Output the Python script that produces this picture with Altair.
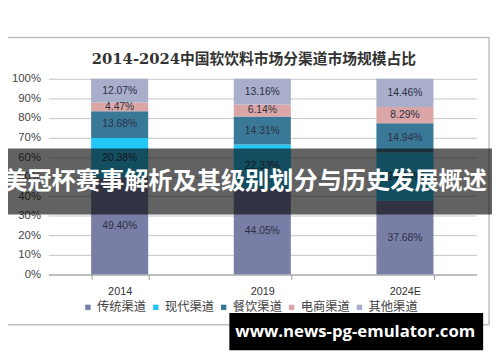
import altair as alt
import pandas as pd

years = ["2014", "2019", "2024E"]
channels = ["传统渠道", "现代渠道", "餐饮渠道", "电商渠道", "其他渠道"]
colors = ["#797ea6", "#22c8f8", "#3a7898", "#dba7a6", "#a9aecb"]
traditional = [49.40, 44.05, 37.68]
modern = [20.38, 22.33, 24.63]
catering = [13.68, 14.31, 14.94]
ecommerce = [4.47, 6.14, 8.29]
other = [12.07, 13.16, 14.46]
y_ticks = [0, 10, 20, 30, 40, 50, 60, 70, 80, 90, 100]

series = [traditional, modern, catering, ecommerce, other]
rows = []
for ci, (ch, vals) in enumerate(zip(channels, series)):
    for yi, y in enumerate(years):
        rows.append({"year": y, "channel": ch, "idx": ci, "value": vals[yi],
                     "label": f"{vals[yi]:.2f}%"})
df = pd.DataFrame(rows)

title_text = "2014-2024中国软饮料市场分渠道市场规模占比"
banner_text = "美冠杯赛事解析及其级别划分与历史发展概述"
watermark_text = "www.news-pg-emulator.com"

W, H = 435, 199
FONT = "Liberation Sans"

base = alt.Chart(df).transform_stack(
    stack="value", groupby=["year"], as_=["v0", "v1"],
    sort=[alt.SortField("idx", order="ascending")]
).transform_calculate(mid="(datum.v0 + datum.v1) / 2")

xaxis = alt.Axis(labelAngle=0, labelFontSize=11, labelColor="#333",
                 labelFont=FONT, domainColor="#999", tickColor="#999",
                 tickSize=5, tickBand="extent", labelPadding=6, grid=False,
                 zindex=1)
yaxis = alt.Axis(values=y_ticks, labelExpr="datum.value + '%'",
                 labelFontSize=11.5, labelColor="#444", labelFont=FONT,
                 labelOverlap=False, labelFlush=False,
                 domain=False, ticks=False, grid=True, gridColor="#c4c4c4",
                 gridWidth=1, labelPadding=8)
xscale = alt.Scale(paddingInner=0.6, paddingOuter=0.3)
yscale = alt.Scale(domain=[0, 100])

bars = base.mark_bar().encode(
    x=alt.X("year:N", sort=years, title=None, scale=xscale, axis=xaxis),
    y=alt.Y("v0:Q", scale=yscale, title=None, axis=yaxis),
    y2="v1:Q",
    color=alt.Color("channel:N", sort=channels,
                    scale=alt.Scale(domain=channels, range=colors),
                    legend=alt.Legend(title=None, orient="none", direction="horizontal",
                                      legendX=34, legendY=226, symbolType="square",
                                      symbolSize=30, labelFontSize=12.5, labelColor="#444",
                                      labelFont="Noto Sans CJK SC", columnPadding=3,
                                      labelOffset=3, symbolStrokeWidth=0)),
    order=alt.Order("idx:Q", sort="ascending"),
)

labels = base.mark_text(fontSize=10.5, color="#2d2f44", font=FONT).encode(
    x=alt.X("year:N", sort=years, title=None, scale=xscale, axis=xaxis),
    y=alt.Y("mid:Q", scale=yscale, title=None, axis=yaxis),
    text="label:N",
)

frame = alt.Chart(pd.DataFrame({"k": [0]})).mark_rect(
    filled=False, stroke="#c0c0c0", strokeWidth=1.5).encode(
    x=alt.value(-46), x2=alt.value(448), y=alt.value(-42), y2=alt.value(250))

title = alt.Chart(pd.DataFrame({"t": [title_text]})).mark_text(
    fontSize=15, fontWeight="bold", color="#333",
    font="DejaVu Serif, Noto Sans CJK SC").encode(
    x=alt.value(209), y=alt.value(-20), text="t:N")

banner_rect = alt.Chart(pd.DataFrame({"k": [0]})).mark_rect(
    fill="#0a0a0a", opacity=0.64).encode(
    x=alt.value(-49), x2=alt.value(451), y=alt.value(71), y2=alt.value(138))

banner = alt.Chart(pd.DataFrame({"t": [banner_text]})).mark_text(
    fontSize=24.6, fontWeight="bold", color="white", font="Noto Sans CJK SC").encode(
    x=alt.value(200), y=alt.value(105), text="t:N")

wm_rect = alt.Chart(pd.DataFrame({"k": [0]})).mark_rect(fill="black").encode(
    x=alt.value(184), x2=alt.value(442), y=alt.value(238), y2=alt.value(276))

wm = alt.Chart(pd.DataFrame({"t": [watermark_text]})).mark_text(
    fontSize=17, fontWeight="bold", color="white", font="Open Sans").encode(
    x=alt.value(312), y=alt.value(258), text="t:N")

chart = alt.layer(frame, title, bars, labels, banner_rect, banner, wm_rect, wm).properties(
    width=W, height=H,
    padding={"left": 41, "top": 69, "right": 16, "bottom": 86},
    autosize=alt.AutoSizeParams(type="none"),
    background="white",
).configure_view(stroke=None)

chart.save("out.html", embed_options={"renderer": "svg", "actions": False})
